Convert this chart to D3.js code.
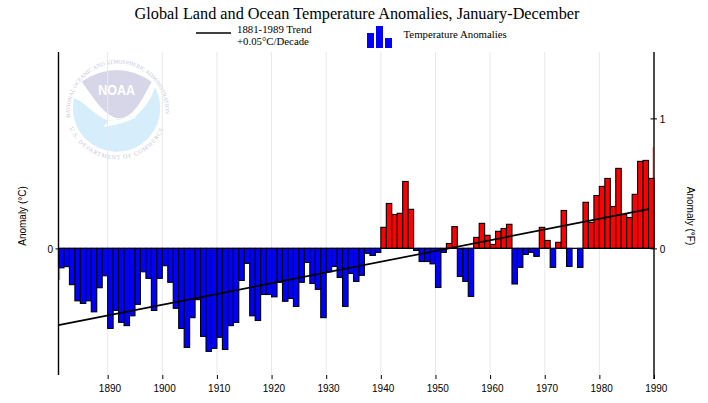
<!DOCTYPE html>
<html><head><meta charset="utf-8">
<script src="https://cdn.jsdelivr.net/npm/d3@7"></script>
<style>html,body{margin:0;padding:0;background:#fff}svg{display:block}</style>
</head><body><svg id="c" width="708" height="403"></svg>
<script>
const firstYear = 1881;
const anomalies = [-.083,-.078,-.155,-.224,-.235,-.224,-.271,-.168,-.117,
 -.342,-.265,-.316,-.330,-.288,-.239,-.100,-.128,-.265,-.128,
 -.074,-.145,-.256,-.342,-.423,-.296,-.219,-.376,-.440,-.427,
 -.380,-.432,-.330,-.316,-.137,-.064,-.288,-.308,-.197,-.197,
 -.207,-.145,-.226,-.214,-.248,-.145,-.060,-.150,-.175,-.296,
 -.100,-.077,-.124,-.248,-.107,-.141,-.115,-.021,-.030,-.017,
 .090,.192,.145,.150,.286,.167,-.009,-.056,-.056,-.066,
 -.167,-.017,.021,.093,-.120,-.141,-.205,.047,.107,.056,
 .017,.073,.085,.103,-.152,-.081,-.026,-.017,-.034,.090,
 .034,-.081,.026,.162,-.077,0,-.081,.197,.111,.226,
 .265,.299,.179,.342,.145,.132,.231,.372,.376,.299];
const edgeYears = [1881, 1990];
const edgeValues = [-.135, .432];
const trendYears = [1881, 1989];
const trendValues = [-.328, .168];
const xTickYears = [1890,1900,1910,1920,1930,1940,1950,1960,1970,1980,1990];
const leftTicks = [0];
const rightTicks = [0,1];
const titleText = "Global Land and Ocean Temperature Anomalies, January-December";
const legendTrend = ["1881-1989 Trend","+0.05°C/Decade"];
const legendBarsText = "Temperature Anomalies";
const legendBarValues = [15,22,10];

const svg = d3.select("#c");
const serif = "'Liberation Serif','Times New Roman',serif";
const sans = "'Liberation Sans',Arial,sans-serif";
const L=58.5,R=654,T=52,B=375;
const x = d3.scaleLinear().domain([1881,1990]).range([L,R]);
const y = d3.scaleLinear().domain([-126.6/234,196.4/234]).range([B,T]);
const yF = d3.scaleLinear().domain(y.domain().map(d=>d*1.8)).range([B,T]);
const step = x(1882)-x(1881);

// logo (faint watermark)
const logo = svg.append("g").attr("transform","translate(40,0) scale(0.3333)");
logo.append("path").attr("fill","#d6eefb")
 .attr("d","M102,295 C135,305 165,350 205,362 L285,350 C315,325 335,295 345,262 A131,131 0 1 1 102,295 Z");
logo.append("path").attr("fill","#d6d6e8")
 .attr("d","M125,245 Q230,175 335,245 C310,290 285,350 240,355 C195,355 160,290 125,245 Z");
logo.append("path").attr("fill","#fff")
 .attr("d","M190,381 C230,374 265,366 290,350 C265,352 225,362 205,362 Z");
logo.append("text").attr("x",230).attr("y",286).attr("text-anchor","middle")
 .attr("font-family",sans).attr("font-weight","bold").attr("font-size",42)
 .attr("textLength",110).attr("lengthAdjust","spacingAndGlyphs")
 .attr("fill","#fff").text("NOAA");
const defs = svg.append("defs");
defs.append("path").attr("id","ringTop").attr("d","M97,378 A143,143 0 1 1 372,368");
defs.append("path").attr("id","ringBot").attr("d","M88,385 A155,155 0 0 0 372,385");
[["#ringTop","NATIONAL OCEANIC AND ATMOSPHERIC ADMINISTRATION",17,0],["#ringBot","U.S. DEPARTMENT OF COMMERCE",18,2.6]].forEach(([h,t,fs,ls])=>{
 logo.append("text").attr("font-family",serif).attr("font-size",fs).attr("letter-spacing",ls).attr("fill","#c4c8dc")
  .append("textPath").attr("href",h).attr("startOffset","50%").attr("text-anchor","middle").text(t);
});
// gridlines run over the logo
svg.append("g").selectAll("line").data(xTickYears.slice(0,-1)).join("line")
 .attr("x1",x).attr("x2",x).attr("y1",T).attr("y2",B)
 .attr("stroke","#e9e9e9").attr("stroke-width",1);

// edge years, only a sliver of each shows at the axes
svg.append("g").selectAll("rect").data(edgeYears).join("rect")
 .attr("x",(d,i)=> i ? x(d)-1.6 : x(d)+.4).attr("width",1.3)
 .attr("y",(d,i)=>Math.min(y(edgeValues[i]),y(0)))
 .attr("height",(d,i)=>Math.abs(y(edgeValues[i])-y(0)))
 .attr("fill",(d,i)=> edgeValues[i]<0 ? "#a8a8ff" : "#ffa0a0");

// bars
svg.append("g").selectAll("rect").data(anomalies).join("rect")
 .attr("x",(d,i)=>x(firstYear+i)).attr("width",step)
 .attr("y",d=>Math.min(y(d),y(0))).attr("height",d=>Math.abs(y(d)-y(0)))
 .attr("fill",d=>d<0?"#0000ff":"#ff0000")
 .attr("stroke","#000").attr("stroke-width",1.1);

// zero line and trend
svg.append("line").attr("x1",L).attr("x2",R).attr("y1",y(0)).attr("y2",y(0))
 .attr("stroke","#000").attr("stroke-width",1.3);
const line = d3.line().x(d=>x(d)).y((d,i)=>y(trendValues[i]));
svg.append("path").attr("d",line(trendYears)).attr("fill","none").attr("stroke","#000").attr("stroke-width",1.7);

// axes
const xAxis = d3.axisBottom(x).tickValues(xTickYears).tickFormat(d3.format("d")).tickSize(4).tickPadding(6);
const gx = svg.append("g").attr("transform",`translate(0,${B})`).call(xAxis);
gx.select(".domain").remove();
gx.selectAll("text").attr("dx",1.8);
const gl = svg.append("g").attr("transform",`translate(${L},0)`)
 .call(d3.axisLeft(y).tickValues(leftTicks).tickFormat(d3.format("d")).tickSize(3).tickPadding(2.5));
gl.select(".domain").attr("d",`M0,${T}V${B}`);
const gr = svg.append("g").attr("transform",`translate(${R},0)`)
 .call(d3.axisRight(yF).tickValues(rightTicks).tickFormat(d3.format("d")).tickSize(3).tickPadding(2.8));
gr.select(".domain").attr("d",`M0,${T}V${B+4}`);
gr.selectAll(".tick line").attr("x1",-3.5);
[gl,gr].forEach(g=>g.selectAll("text").attr("dy","0.45em"));
[gx,gl,gr].forEach(g=>{
 g.attr("font-family",sans).attr("font-size",10);
 g.selectAll("text").attr("fill","#000");
 g.selectAll("line").attr("stroke","#000");
 g.select(".domain").attr("stroke","#000").attr("stroke-width",1.4);
});

// axis titles
svg.append("text").attr("transform","translate(26,216) rotate(-90)").attr("text-anchor","middle")
 .attr("font-family",sans).attr("font-size",10).text("Anomaly (°C)");
svg.append("text").attr("transform","translate(687,216) rotate(90)").attr("text-anchor","middle")
 .attr("font-family",sans).attr("font-size",10).text("Anomaly (°F)");

// title and legend
svg.append("text").attr("x",357).attr("y",18.5).attr("text-anchor","middle")
 .attr("font-family",serif).attr("font-size",16.25).text(titleText);
svg.append("line").attr("x1",196).attr("x2",231).attr("y1",33).attr("y2",33).attr("stroke","#000").attr("stroke-width",1.7);
svg.append("g").selectAll("text").data(legendTrend).join("text")
 .attr("x",237).attr("y",(d,i)=>33+i*12).attr("font-family",serif).attr("font-size",10.8).text(d=>d);
svg.append("g").selectAll("rect").data(legendBarValues).join("rect")
 .attr("x",(d,i)=>367+i*9).attr("width",7).attr("y",d=>48-d).attr("height",d=>d).attr("fill","#0000ff");
svg.append("text").attr("x",403.5).attr("y",38).attr("font-family",serif).attr("font-size",10.8).text(legendBarsText);
</script></body></html>
